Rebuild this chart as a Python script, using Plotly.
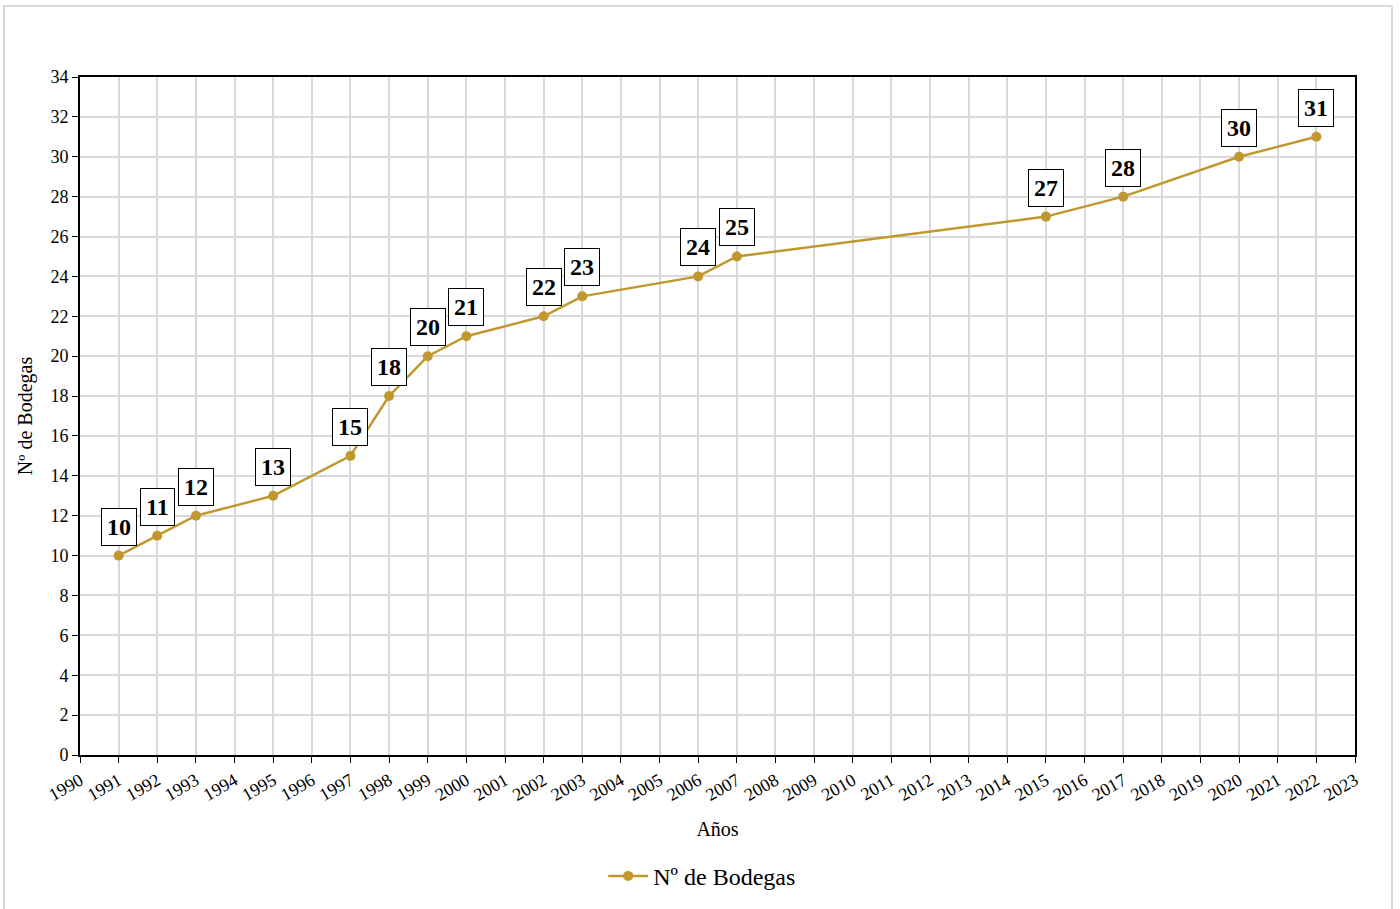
import plotly.graph_objects as go

# Número de bodegas por año
years = [1991, 1992, 1993, 1995, 1997, 1998, 1999, 2000, 2002, 2003,
         2006, 2007, 2015, 2017, 2020, 2022]
wineries = [10, 11, 12, 13, 15, 18, 20, 21, 22, 23, 24, 25, 27, 28, 30, 31]

series_name = "Nº de Bodegas"
x_title = "Años"
y_title = "Nº de Bodegas"

gold = "#C0982E"
serif = "Liberation Serif, Times New Roman, serif"

fig = go.Figure()
fig.add_trace(go.Scatter(
    x=years, y=wineries, mode="lines+markers", name=series_name,
    line=dict(color=gold, width=2.5),
    marker=dict(color=gold, size=10),
))

# Etiquetas de valor en recuadro sobre cada punto
for x, y in zip(years, wineries):
    fig.add_annotation(
        x=x, y=y, text=f"<b>{y}</b>", showarrow=False,
        yanchor="bottom", yshift=10,
        font=dict(family=serif, size=24, color="black"),
        bgcolor="white", bordercolor="black", borderwidth=1, borderpad=5,
    )

# Marco exterior del gráfico
fig.add_shape(
    type="rect", xref="paper", yref="paper",
    x0=-0.0596, x1=1.029, y0=-0.24, y1=1.1047,
    line=dict(color="#d9d9d9", width=2), fillcolor="rgba(0,0,0,0)",
    layer="below",
)

fig.update_layout(
    width=1400, height=909,
    margin=dict(l=80, r=45, t=77, b=154, autoexpand=False),
    paper_bgcolor="white", plot_bgcolor="white",
    font=dict(family=serif, color="black", size=18),
    showlegend=True,
    legend=dict(orientation="h", x=0.488, xanchor="center",
                yref="container", y=0.036, yanchor="middle",
                itemwidth=40,
                font=dict(family=serif, size=24)),
    xaxis=dict(
        range=[1990, 2023], tickmode="linear", tick0=1990, dtick=1,
        tickangle=-30, ticks="outside", ticklen=6, tickcolor="black",
        showgrid=True, gridcolor="#d9d9d9", gridwidth=1.5,
        showline=True, linecolor="black", linewidth=2, mirror=True,
        zeroline=False, tickfont=dict(size=18), automargin=False,
        title=dict(text=x_title, font=dict(size=20), standoff=18),
    ),
    yaxis=dict(
        range=[0, 34], tickmode="linear", tick0=0, dtick=2,
        ticks="outside", ticklen=6, tickcolor="black",
        showgrid=True, gridcolor="#d9d9d9", gridwidth=1.5,
        showline=True, linecolor="black", linewidth=2, mirror=True,
        zeroline=False, tickfont=dict(size=18), automargin=False,
        title=dict(text=y_title, font=dict(size=20), standoff=12),
    ),
)

fig.write_html("out.html")
